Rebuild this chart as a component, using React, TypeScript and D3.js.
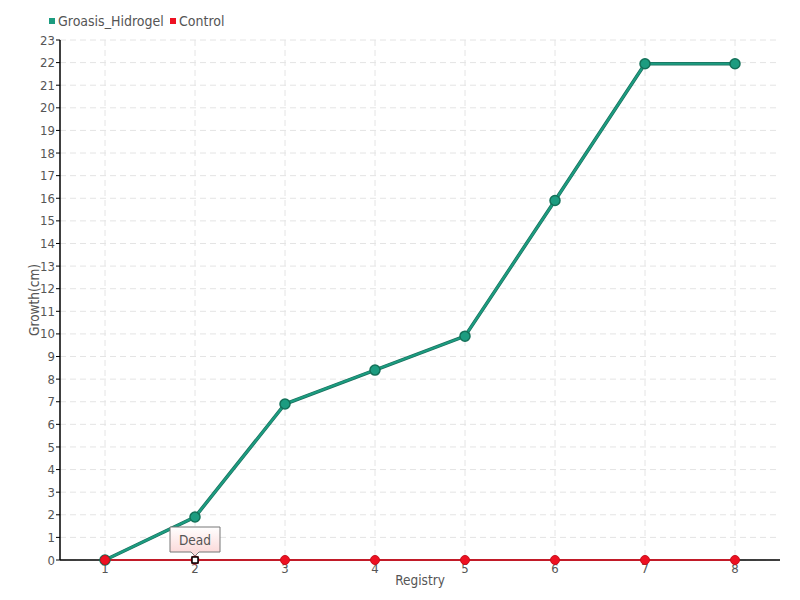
import React from "react";
import * as d3 from "d3";

const registries = [1, 2, 3, 4, 5, 6, 7, 8];
const groasisValues = [0, 1.9, 6.9, 8.4, 9.9, 15.9, 21.95, 21.95];
const controlValues = [0, 0, 0, 0, 0, 0, 0, 0];
const yTicks = d3.range(0, 24);
const seriesNames = ["Groasis_Hidrogel", "Control"];
const seriesColors = ["#1c9c80", "#ee1122"];
const deadIndex = 1;
const deadLabel = "Dead";

const W = 800, H = 600;
const M = { left: 60, right: 20, top: 40, bottom: 40 };
const FONT = "'DejaVu Sans Condensed', 'Liberation Sans Narrow', sans-serif";

export default function App() {
  const x = d3.scaleLinear().domain([0.5, 8.5]).range([M.left, W - M.right]);
  const y = d3.scaleLinear().domain([0, 23]).range([H - M.bottom, M.top]);
  const line = d3.line<number>().x((_, i) => x(registries[i])).y((d) => y(d));
  const gPath = line(groasisValues) || "";
  const cPath = line(controlValues) || "";
  const dx = x(registries[deadIndex]);
  const dy = y(controlValues[deadIndex]);

  return (
    <svg width={W} height={H} style={{ position: "absolute", left: 0, top: 0, background: "#fff" }} fontFamily={FONT}>
      <defs>
        <linearGradient id="tipg" x1="0" y1="0" x2="0" y2="1">
          <stop offset="0" stopColor="#ffffff" />
          <stop offset="1" stopColor="#fbd4d4" />
        </linearGradient>
      </defs>
      {/* grid */}
      {yTicks.map((t) => (
        <line key={"gy" + t} x1={M.left} x2={W - M.right} y1={y(t)} y2={y(t)} stroke="#e4e4e4" strokeDasharray="6,4" />
      ))}
      {registries.map((r) => (
        <line key={"gx" + r} x1={x(r)} x2={x(r)} y1={M.top} y2={H - M.bottom} stroke="#e4e4e4" strokeDasharray="6,4" />
      ))}
      {/* axes */}
      <line x1={M.left} x2={M.left} y1={M.top} y2={H - M.bottom} stroke="#000" strokeWidth={1.5} />
      <line x1={M.left} x2={W - M.right} y1={H - M.bottom} y2={H - M.bottom} stroke="#000" strokeWidth={1.5} />
      {yTicks.map((t) => (
        <g key={"yt" + t}>
          <line x1={M.left - 4} x2={M.left} y1={y(t)} y2={y(t)} stroke="#000" />
          <text x={M.left - 5} y={y(t)} dy="0.35em" textAnchor="end" fontSize={13} fill="#555">{t}</text>
        </g>
      ))}
      {registries.map((r) => (
        <text key={"xt" + r} x={x(r)} y={H - M.bottom + 13} textAnchor="middle" fontSize={13} fill="#555">{r}</text>
      ))}
      <text x={(M.left + W - M.right) / 2} y={585} textAnchor="middle" fontSize={13.5} fill="#555">Registry</text>
      <text transform={`translate(34,${(M.top + H - M.bottom) / 2}) rotate(-90)`} dy="0.35em" textAnchor="middle" fontSize={13.5} fill="#555">Growth(cm)</text>
      {/* series */}
      <path d={gPath} fill="none" stroke="#1a6e5c" strokeWidth={3.5} />
      <path d={gPath} fill="none" stroke={seriesColors[0]} strokeWidth={2.2} />
      <path d={cPath} fill="none" stroke={seriesColors[1]} strokeWidth={1.5} />
      {groasisValues.map((v, i) => (
        <circle key={"gp" + i} cx={x(registries[i])} cy={y(v)} r={5} fill={seriesColors[0]} stroke="#137058" strokeWidth={1.5} />
      ))}
      {controlValues.map((v, i) =>
        i === deadIndex ? null : (
          <circle key={"cp" + i} cx={x(registries[i])} cy={y(v)} r={4.5} fill={seriesColors[1]} stroke="#c8101c" strokeWidth={1} />
        )
      )}
      <circle cx={dx} cy={dy} r={4.5} fill={seriesColors[1]} />
      <rect x={dx - 3} y={dy - 3} width={6} height={6} fill="#fff" stroke="#000" strokeWidth={1.5} />
      {/* tooltip */}
      <path
        d={`M${dx - 25},${dy - 33} h50 v25 h-21 l-4,4 l-4,-4 h-21 z`}
        fill="url(#tipg)"
        stroke="#777"
        strokeWidth={1}
      />
      <text x={dx} y={dy - 20} dy="0.35em" textAnchor="middle" fontSize={13.5} fill="#555">{deadLabel}</text>
      {/* legend */}
      <rect x={49} y={18} width={6} height={6} fill={seriesColors[0]} />
      <text x={58} y={21} dy="0.35em" fontSize={14} fill="#555">{seriesNames[0]}</text>
      <rect x={170} y={18} width={6} height={6} fill={seriesColors[1]} />
      <text x={179} y={21} dy="0.35em" fontSize={14} fill="#555">{seriesNames[1]}</text>
    </svg>
  );
}
